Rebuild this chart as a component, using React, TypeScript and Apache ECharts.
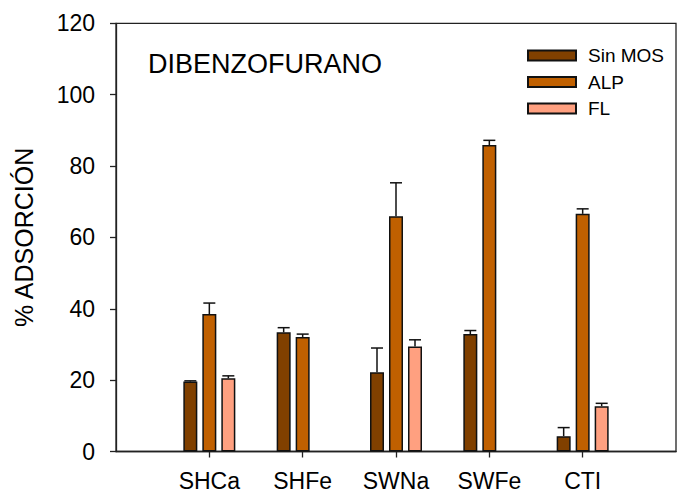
import React, { useEffect, useRef } from "react";
import * as echarts from "echarts";

const categories = ["SHCa", "SHFe", "SWNa", "SWFe", "CTI"];
const seriesNames = ["Sin MOS", "ALP", "FL"];
const sinMos = [19.6, 33.4, 22.2, 32.9, 4.3];
const sinMosErr = [0.2, 1.3, 6.8, 1.0, 2.4];
const alp = [38.5, 32.1, 65.9, 85.9, 66.6];
const alpErr = [3.1, 0.8, 9.4, 1.3, 1.4];
const fl = [20.5, null, 29.4, null, 12.7];
const flErr = [0.7, null, 1.9, null, 0.8];
const yTicks = [0, 20, 40, 60, 80, 100, 120];

const colors = ["#804000", "#c06000", "#ffa080"];
const FONT = "'Liberation Sans', Arial, sans-serif";
const BAR_W = 14;
const BAR_PITCH = 19;

export default function App() {
  const ref = useRef<HTMLDivElement>(null);
  useEffect(() => {
    if (!ref.current) return;
    const chart = echarts.init(ref.current, null, { renderer: "svg" });
    const axisCats = ["", ...categories, ""];
    const values = [sinMos, alp, fl];
    const errs = [sinMosErr, alpErr, flErr];

    const barSeries = values.map((vals, s) => ({
      type: "bar",
      name: seriesNames[s],
      data: [null, ...vals, null],
      barWidth: BAR_W,
      barGap: ((BAR_PITCH - BAR_W) / BAR_W) * 100 + "%",
      itemStyle: { color: colors[s], borderColor: "#111", borderWidth: 1.5 },
      z: 2,
    }));

    const errSeries = values.map((vals, s) => ({
      type: "custom",
      name: seriesNames[s] + " err",
      z: 3,
      data: vals
        .map((v, i) => (v == null || errs[s][i] == null ? null : [i + 1, v, errs[s][i]]))
        .filter((d) => d !== null),
      encode: { x: 0, y: 1 },
      renderItem: (params: any, api: any) => {
        const ci = api.value(0);
        const v = api.value(1);
        const e = api.value(2);
        const top = api.coord([ci, v]);
        const cap = api.coord([ci, v + e]);
        const x = top[0] + (s - 1) * BAR_PITCH;
        const st = { stroke: "#111", lineWidth: 1.5 };
        return {
          type: "group",
          children: [
            { type: "line", shape: { x1: x, y1: top[1], x2: x, y2: cap[1] }, style: st },
            { type: "line", shape: { x1: x - 6, y1: cap[1], x2: x + 6, y2: cap[1] }, style: st },
          ],
        };
      },
    }));

    chart.setOption({
      animation: false,
      textStyle: { fontFamily: FONT },
      grid: {
        left: 116,
        right: -8.5,
        top: 23.3,
        bottom: 43.5,
        show: true,
        borderColor: "#222",
        borderWidth: 1.3,
        backgroundColor: "transparent",
      },
      legend: {
        data: seriesNames,
        orient: "vertical",
        left: 522,
        top: 41,
        icon: "rect",
        itemWidth: 48,
        itemHeight: 10,
        itemGap: 7.5,
        textStyle: { fontSize: 19, color: "#000", fontFamily: FONT, lineHeight: 18, padding: [0, 0, 0, 7] },
      },
      graphic: [
        {
          type: "text",
          left: 148,
          top: 50,
          style: { text: "DIBENZOFURANO", fontSize: 27, fill: "#000", fontFamily: FONT },
        },
      ],
      xAxis: {
        type: "category",
        data: axisCats,
        boundaryGap: false,
        axisLine: { lineStyle: { color: "#222", width: 1.3 } },
        axisTick: {
          length: 6,
          inside: false,
          interval: (i: number) => i > 0 && i < axisCats.length - 1,
          lineStyle: { color: "#222", width: 1.3 },
        },
        axisLabel: {
          fontSize: 23,
          color: "#000",
          margin: 18,
          interval: 0,
          fontFamily: FONT,
        },
        splitLine: { show: false },
      },
      yAxis: {
        type: "value",
        min: yTicks[0],
        max: yTicks[yTicks.length - 1],
        interval: 20,
        name: "% ADSORCIÓN",
        nameLocation: "middle",
        nameGap: 80,
        nameTextStyle: { fontSize: 25, color: "#000", fontFamily: FONT },
        axisLine: { show: true, lineStyle: { color: "#222", width: 1.3 } },
        axisTick: { show: true, length: 6, lineStyle: { color: "#222", width: 1.3 } },
        axisLabel: { fontSize: 23, color: "#000", margin: 21, fontFamily: FONT },
        splitLine: { show: false },
      },
      series: [...barSeries, ...errSeries],
    });
    return () => chart.dispose();
  }, []);
  return (
    <div
      ref={ref}
      style={{ position: "absolute", left: 0, top: 0, width: 679, height: 495, background: "#fff" }}
    />
  );
}
